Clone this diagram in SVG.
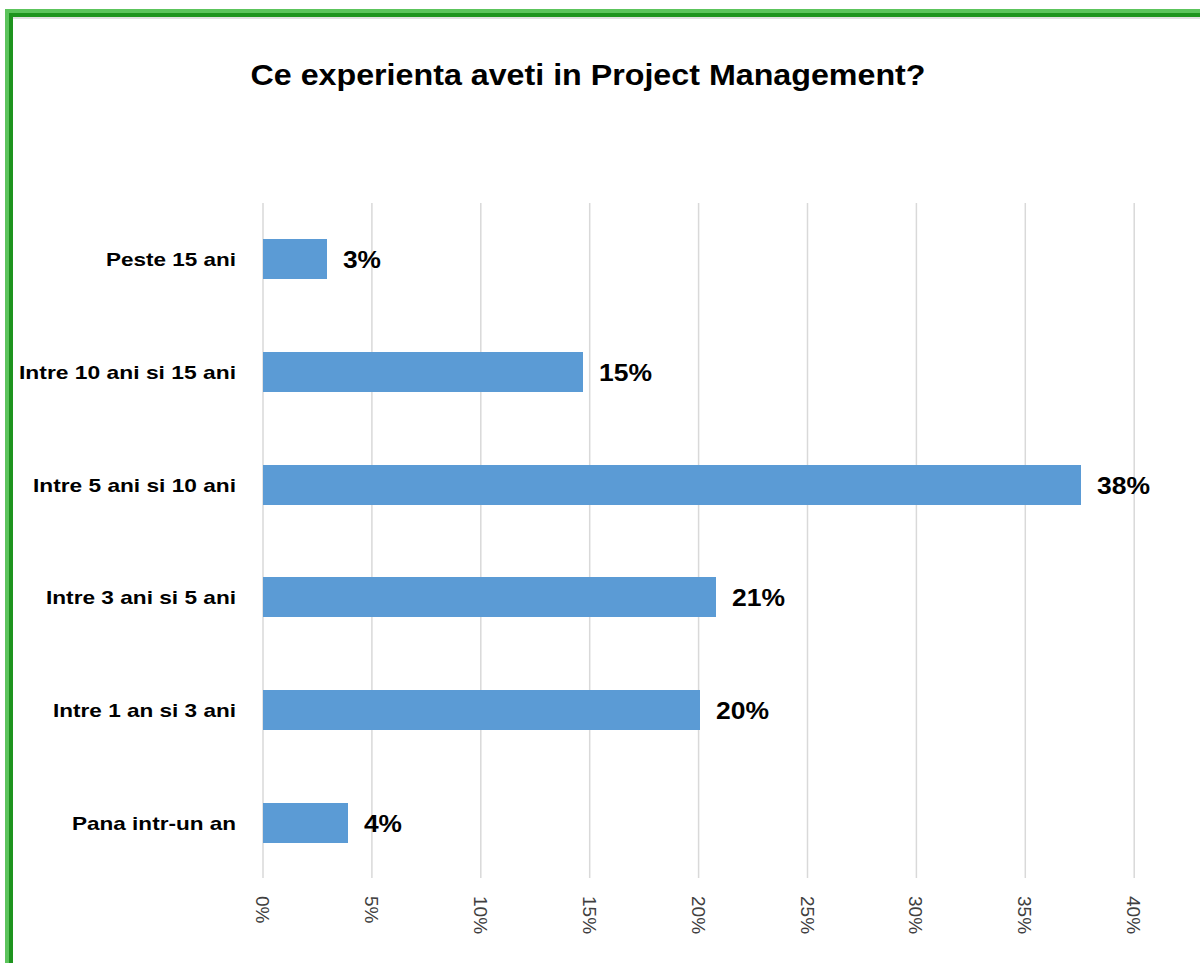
<svg xmlns="http://www.w3.org/2000/svg" width="1200" height="963" viewBox="0 0 1200 963">
<style>
.title{font-family:"Liberation Sans",Arial,sans-serif;font-weight:bold;font-size:30px;fill:#000;text-anchor:middle}
.cat{font-family:"Liberation Sans",Arial,sans-serif;font-weight:bold;font-size:19px;fill:#000;text-anchor:end}
.val{font-family:"Liberation Sans",Arial,sans-serif;font-weight:bold;font-size:24px;fill:#000}
.tick{font-family:"Liberation Sans",Arial,sans-serif;font-size:19px;fill:#404040}
.grid{stroke:#d9d9d9;stroke-width:1.5}
.bar{fill:#5b9bd5}
</style>
<rect x="0" y="0" width="1200" height="963" fill="#ffffff"/>
<g id="frame">
<rect x="5" y="9" width="1195" height="8" fill="#5cc45c"/>
<rect x="5" y="9" width="8" height="954" fill="#5cc45c"/>
<rect x="9" y="13" width="1191" height="4" fill="#1e941e"/>
<rect x="9" y="13" width="4" height="950" fill="#1e941e"/>
<rect x="13" y="17" width="1187" height="2" fill="#e0e0e0"/>
</g>
<g id="title"><text class="title" x="588" y="85" textLength="675" lengthAdjust="spacingAndGlyphs">Ce experienta aveti in Project Management?</text></g>
<g id="gridlines">
<line class="grid" x1="263" y1="203" x2="263" y2="878"/>
<line class="grid" x1="371.9" y1="203" x2="371.9" y2="878"/>
<line class="grid" x1="480.8" y1="203" x2="480.8" y2="878"/>
<line class="grid" x1="589.7" y1="203" x2="589.7" y2="878"/>
<line class="grid" x1="698.6" y1="203" x2="698.6" y2="878"/>
<line class="grid" x1="807.5" y1="203" x2="807.5" y2="878"/>
<line class="grid" x1="916.4" y1="203" x2="916.4" y2="878"/>
<line class="grid" x1="1025.3" y1="203" x2="1025.3" y2="878"/>
<line class="grid" x1="1134.2" y1="203" x2="1134.2" y2="878"/>
</g>
<g id="axis-labels">
<text class="tick" transform="translate(256,896) rotate(90)">0%</text>
<text class="tick" transform="translate(364.9,896) rotate(90)">5%</text>
<text class="tick" transform="translate(473.8,896) rotate(90)">10%</text>
<text class="tick" transform="translate(582.7,896) rotate(90)">15%</text>
<text class="tick" transform="translate(691.6,896) rotate(90)">20%</text>
<text class="tick" transform="translate(800.5,896) rotate(90)">25%</text>
<text class="tick" transform="translate(909.4,896) rotate(90)">30%</text>
<text class="tick" transform="translate(1018.3,896) rotate(90)">35%</text>
<text class="tick" transform="translate(1127.2,896) rotate(90)">40%</text>
</g>
<g id="bar-peste15">
<rect class="bar" x="263" y="239" width="64" height="40"/>
<text class="cat" x="236" y="266" textLength="130" lengthAdjust="spacingAndGlyphs">Peste 15 ani</text>
<text class="val" x="343" y="268" textLength="38" lengthAdjust="spacingAndGlyphs">3%</text>
</g>
<g id="bar-10-15">
<rect class="bar" x="263" y="352" width="320" height="40"/>
<text class="cat" x="236" y="379" textLength="217" lengthAdjust="spacingAndGlyphs">Intre 10 ani si 15 ani</text>
<text class="val" x="599" y="381" textLength="53" lengthAdjust="spacingAndGlyphs">15%</text>
</g>
<g id="bar-5-10">
<rect class="bar" x="263" y="465" width="818" height="40"/>
<text class="cat" x="236" y="492" textLength="203" lengthAdjust="spacingAndGlyphs">Intre 5 ani si 10 ani</text>
<text class="val" x="1097" y="494" textLength="53" lengthAdjust="spacingAndGlyphs">38%</text>
</g>
<g id="bar-3-5">
<rect class="bar" x="263" y="577" width="453" height="40"/>
<text class="cat" x="236" y="604" textLength="190" lengthAdjust="spacingAndGlyphs">Intre 3 ani si 5 ani</text>
<text class="val" x="732" y="606" textLength="53" lengthAdjust="spacingAndGlyphs">21%</text>
</g>
<g id="bar-1-3">
<rect class="bar" x="263" y="690" width="437" height="40"/>
<text class="cat" x="236" y="717" textLength="183" lengthAdjust="spacingAndGlyphs">Intre 1 an si 3 ani</text>
<text class="val" x="716" y="719" textLength="53" lengthAdjust="spacingAndGlyphs">20%</text>
</g>
<g id="bar-pana1">
<rect class="bar" x="263" y="803" width="85" height="40"/>
<text class="cat" x="236" y="830" textLength="164" lengthAdjust="spacingAndGlyphs">Pana intr-un an</text>
<text class="val" x="364" y="832" textLength="38" lengthAdjust="spacingAndGlyphs">4%</text>
</g>
</svg>
